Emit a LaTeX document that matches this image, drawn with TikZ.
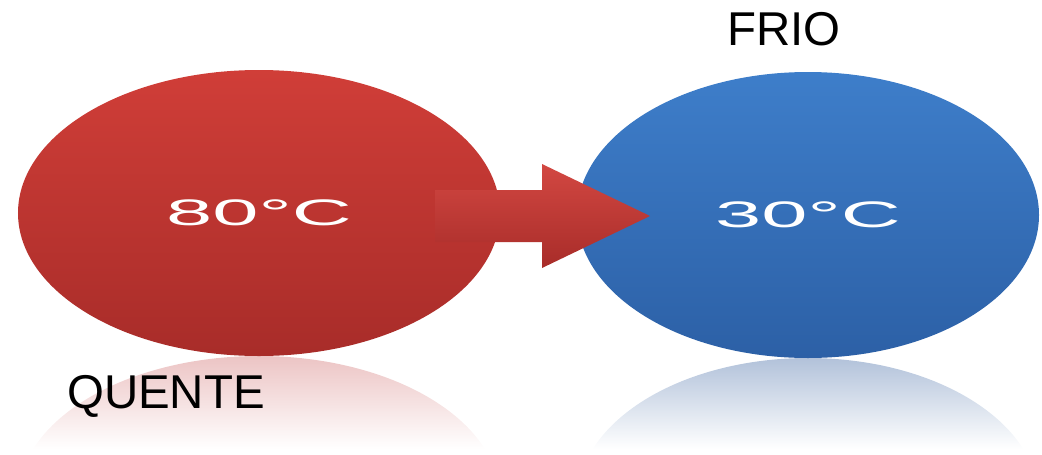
\documentclass[tikz,border=0pt]{standalone}
\usepackage{fontspec}
\setmainfont{Liberation Sans}
\usepackage{xcolor}
\usepackage{tikz}
\usetikzlibrary{
  shapes.geometric
}

\definecolor{quenteTopo}{RGB}{208,62,56}
\definecolor{quenteBase}{RGB}{168,44,41}
\definecolor{frioTopo}{RGB}{62,126,202}
\definecolor{frioBase}{RGB}{44,96,166}
\definecolor{quenteReflexo}{RGB}{236,196,196}
\definecolor{frioReflexo}{RGB}{178,194,218}

\begin{document}
\begin{tikzpicture}[
        corpo/.style 2 args={
            ellipse,
            inner sep=0pt,
            minimum height=5.72cm,
            top color=#1,
            bottom color=#2,
            text=white,
            font=\fontsize{21}{21}\selectfont
          },corpo quente/.style={
            corpo={quenteTopo}{quenteBase},
            minimum width=9.64cm
          },corpo frio/.style={
            corpo={frioTopo}{frioBase},
            minimum width=9.24cm
          },seta/.style={
            top color=quenteTopo!95!white,
            bottom color=quenteBase
          },rotulo/.style={
            anchor=base,
            font=\fontsize{27}{27}\selectfont
          }
      ]
      \useasboundingbox (0,0) rectangle (20.84,9.08);

      % 反射（楕円の下に映る影）
      \begin{scope}
        \clip (5.18,-0.90) ellipse (4.82 and 2.86);
        \shade[top color=quenteReflexo, bottom color=white]
          (0,0.1) rectangle (10.5,1.96);
      \end{scope}
      \begin{scope}
        \clip (16.16,-0.94) ellipse (4.62 and 2.86);
        \shade[top color=frioReflexo, bottom color=white]
          (11,0.1) rectangle (21,1.92);
      \end{scope}

      % 二つの楕円
      \node[corpo quente] (quente) at (5.18,4.82) {\scalebox{2.25}[1]{80°C}};
      \node[corpo frio] (frio) at (16.16,4.78) {\scalebox{2.25}[1]{30°C}};

      % 熱の流れの矢印
      \coordinate (cauda) at (8.70,4.76);
      \coordinate (ponta) at (13.0,4.76);
      \shade[seta] ([yshift=5.2mm]cauda)
        -- ([xshift=-21.6mm,yshift=5.2mm]ponta)
        -- ([xshift=-21.6mm,yshift=10.4mm]ponta)
        -- (ponta)
        -- ([xshift=-21.6mm,yshift=-10.4mm]ponta)
        -- ([xshift=-21.6mm,yshift=-5.2mm]ponta)
        -- ([yshift=-5.2mm]cauda) -- cycle;

      % ラベル
      \node[rotulo] (lquente) at (3.32,0.92) {QUENTE};
      \node[rotulo] (lfrio) at (15.68,8.18) {FRIO};

    \end{tikzpicture}
\end{document}
